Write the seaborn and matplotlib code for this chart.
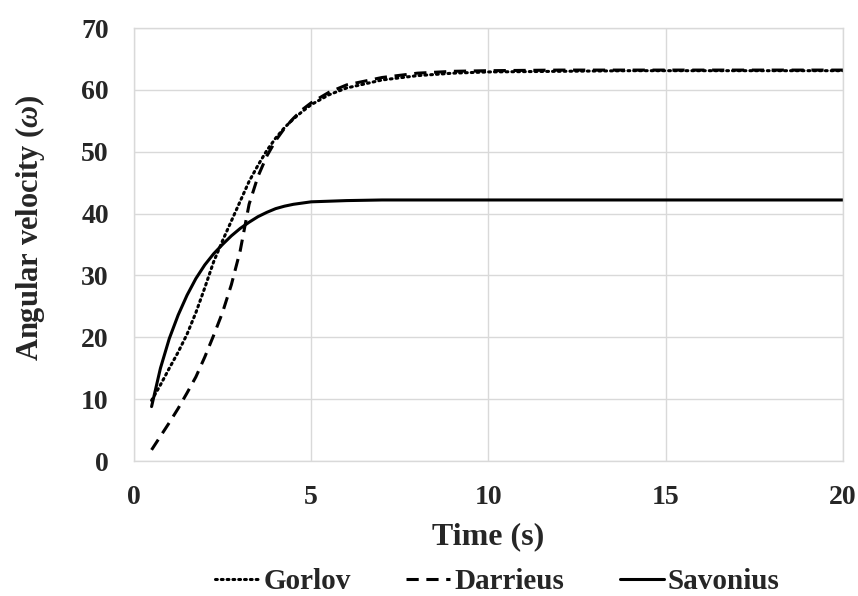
import pandas as pd
import seaborn as sns
import matplotlib.pyplot as plt

sns.set_theme(style='whitegrid')
plt.rcParams['font.family'] = ['Liberation Serif', 'DejaVu Serif']
plt.rcParams['font.weight'] = 'bold'
plt.rcParams['mathtext.fontset'] = 'custom'
plt.rcParams['mathtext.it'] = 'Liberation Serif:italic:bold'
plt.rcParams['mathtext.rm'] = 'Liberation Serif:bold'

# time (s)
time = [0.5, 0.75, 1, 1.25, 1.5, 1.75, 2, 2.25, 2.5, 2.75, 3, 3.25, 3.5, 3.75,
        4, 4.25, 4.5, 4.75, 5, 5.5, 6, 7, 8, 9, 10, 12, 14, 16, 18, 20]

gorlov = [9.8, 12.3, 15.0, 17.6, 20.5, 24.0, 28.0, 32.2, 35.6, 38.8, 42.0, 45.2,
          47.8, 50.2, 52.2, 53.9, 55.3, 56.5, 57.6, 59.2, 60.3, 61.6, 62.3, 62.7,
          62.9, 63.0, 63.1, 63.1, 63.1, 63.1]
darrieus = [1.8, 4.0, 6.2, 8.5, 11.0, 13.6, 16.8, 20.3, 24.0, 28.5, 34.0, 41.5,
            46.0, 49.3, 51.8, 53.8, 55.4, 56.8, 57.9, 59.6, 60.8, 62.0, 62.7, 63.0,
            63.1, 63.2, 63.2, 63.2, 63.2, 63.2]
savonius = [8.8, 15.0, 19.8, 23.6, 26.8, 29.5, 31.7, 33.5, 35.0, 36.4, 37.6, 38.6,
            39.5, 40.2, 40.8, 41.2, 41.5, 41.7, 41.9, 42.0, 42.1, 42.2, 42.2, 42.2,
            42.2, 42.2, 42.2, 42.2, 42.2, 42.2]

fig = plt.figure(figsize=(8.58, 5.96), dpi=100, facecolor='white')
ax = fig.add_axes([0.156, 0.2265, 0.8265, 0.7265])

sns.lineplot(x=time, y=gorlov, ax=ax, color='black', lw=2.2,
             linestyle=(0, (0.6, 1.3)), dash_capstyle='round', label='Gorlov')
sns.lineplot(x=time, y=darrieus, ax=ax, color='black', lw=2.2,
             linestyle=(0, (4, 2.5)), label='Darrieus')
sns.lineplot(x=time, y=savonius, ax=ax, color='black', lw=2.2,
             linestyle='-', label='Savonius')

ax.set_xlim(0, 20)
ax.set_ylim(0, 70)
ax.set_xticks([0, 5, 10, 15, 20])
ax.set_yticks(range(0, 71, 10))
ax.grid(True, color='#d9d9d9', lw=1)
for s in ax.spines.values():
    s.set_visible(True)
    s.set_color('#d9d9d9')
    s.set_linewidth(1)
ax.tick_params(axis='both', length=0, labelsize=20)
ax.tick_params(axis='x', pad=17)
ax.tick_params(axis='y', pad=18)
for lab in ax.get_xticklabels() + ax.get_yticklabels():
    lab.set_fontweight('bold')

ax.set_xlabel('Time (s)', fontsize=23, fontweight='bold', labelpad=9)
ax.set_ylabel(r'Angular velocity ($\mathit{\omega}$)', fontsize=22,
              fontweight='bold')
ax.yaxis.set_label_coords(-0.123, 0.54)

ax.get_legend().remove()
handles, labels = ax.get_legend_handles_labels()
fig.legend(handles, labels, loc='center', bbox_to_anchor=(0.58, 0.024), ncol=3,
           frameon=False, prop={'size': 21, 'weight': 'bold'},
           handlelength=1.5, handletextpad=0.15, columnspacing=1.9)

fig.savefig('out.png', dpi=100, facecolor='white')
